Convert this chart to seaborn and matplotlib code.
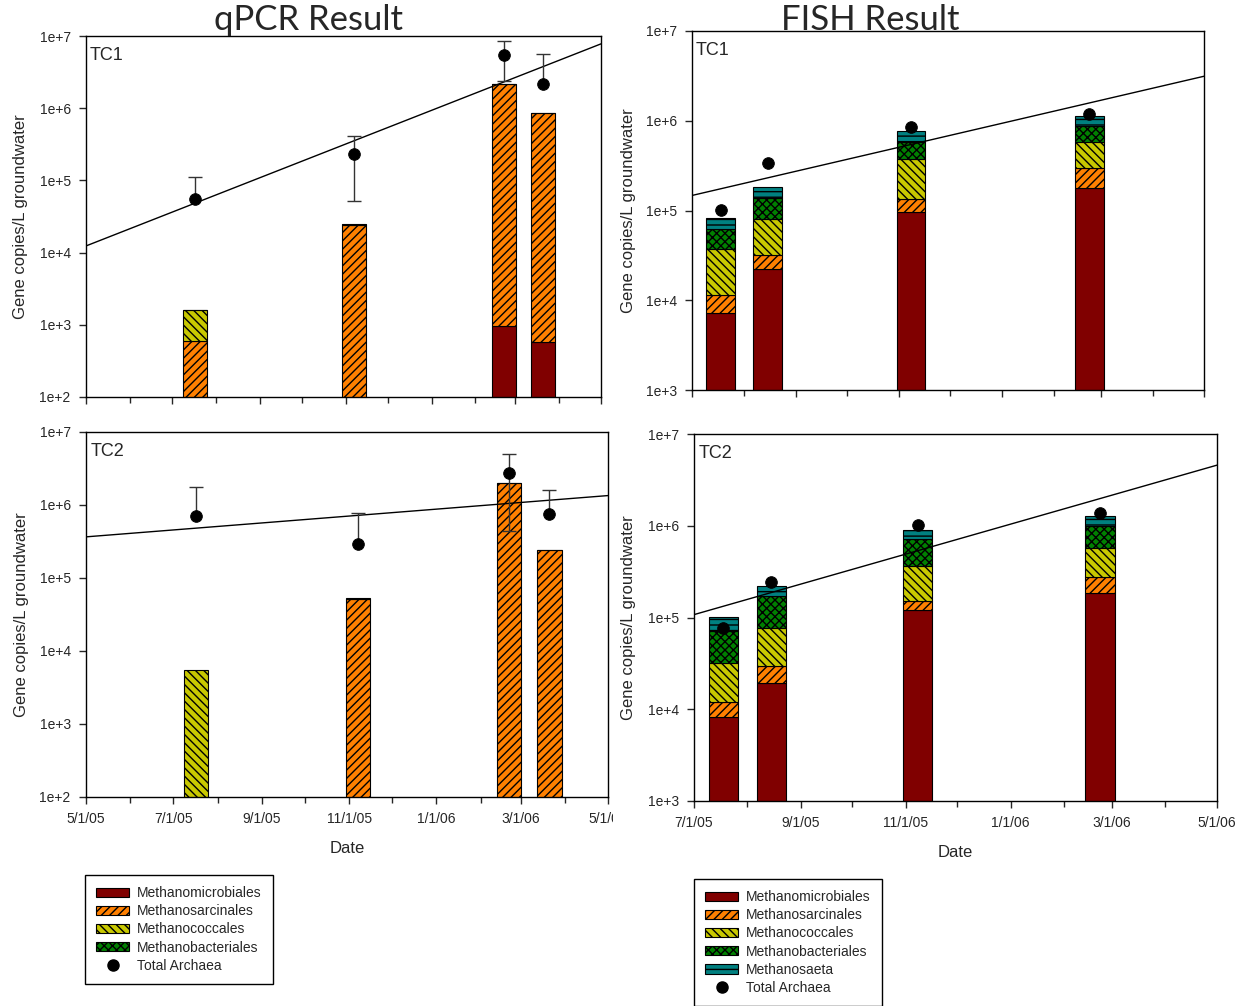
import numpy as np
import pandas as pd
import matplotlib
matplotlib.use("Agg")
import matplotlib.pyplot as plt
import matplotlib.dates as mdates
from matplotlib.patches import Patch, Rectangle
from matplotlib.lines import Line2D
from matplotlib.ticker import FixedLocator, FuncFormatter, NullFormatter
import seaborn as sns

sns.set_style("ticks")
plt.rcParams["font.family"] = ["Liberation Sans", "DejaVu Sans"]
plt.rcParams["hatch.linewidth"] = 1.0

# ---- data ----
qpcr_dates = ["2005-07-17", "2005-11-07", "2006-02-21", "2006-03-21"]
fish_dates = ["2005-07-18", "2005-08-15", "2005-11-08", "2006-02-22"]

# qPCR TC1
q1_microbiales = [0, 0, 960, 580]
q1_sarcinales = [600, 24000, 2160000, 857000]
q1_coccales = [1000, 0, 0, 0]
q1_bacteriales = [20, 800, 20000, 8000]
q1_total = [55000, 232000, 5400000, 2150000]
q1_err = [56000, 180000, 3000000, 3400000]

# qPCR TC2
q2_microbiales = [0, 0, 0, 0]
q2_sarcinales = [0, 51500, 2000000, 242000]
q2_coccales = [5500, 0, 0, 0]
q2_bacteriales = [0, 2000, 10000, 2000]
q2_total = [706000, 292000, 2740000, 753000]
q2_err = [1060000, 484000, 2300000, 850000]

# FISH TC1
f1_microbiales = [7200, 22300, 95000, 177000]
f1_sarcinales = [4200, 9400, 39000, 123000]
f1_coccales = [25800, 48700, 238000, 285000]
f1_bacteriales = [24600, 58600, 213000, 296000]
f1_saeta = [20000, 42000, 177000, 259000]
f1_total = [101000, 336000, 859000, 1190000]

# FISH TC2
f2_microbiales = [8200, 19500, 121000, 186000]
f2_sarcinales = [3900, 10000, 29000, 93000]
f2_coccales = [20000, 48000, 217000, 297000]
f2_bacteriales = [39000, 94000, 351000, 424000]
f2_saeta = [29000, 51000, 182000, 290000]
f2_total = [77000, 244000, 1020000, 1370000]

groups = ["Methanomicrobiales", "Methanosarcinales", "Methanococcales",
          "Methanobacteriales", "Methanosaeta"]
styles = {
    "Methanomicrobiales": dict(facecolor="#800000", hatch=None),
    "Methanosarcinales": dict(facecolor="#ff8000", hatch="////"),
    "Methanococcales": dict(facecolor="#c8c800", hatch="\\\\\\\\"),
    "Methanobacteriales": dict(facecolor="#008000", hatch="xxxx"),
    "Methanosaeta": dict(facecolor="#008080", hatch="---"),
}

W, H = 1248, 1006
fig = plt.figure(figsize=(W / 100, H / 100), dpi=100)


def px_axes(x0, y0, x1, y1):
    return fig.add_axes([x0 / W, 1 - y1 / H, (x1 - x0) / W, (y1 - y0) / H])


def fmt_date(v, pos=None):
    d = mdates.num2date(v)
    return f"{d.month}/{d.day}/{d:%y}"


def panel(ax, dates, layers, total, err, xlim, ylim, tag, show_x, ylab_x):
    x = mdates.date2num(pd.to_datetime(dates))
    bottom = np.zeros(len(x))
    for name, vals in layers:
        vals = np.asarray(vals, float)
        m = vals > 0
        b = np.where(bottom > 0, bottom, 1.0)
        ax.bar(x[m], vals[m], width=17, bottom=b[m], edgecolor="black",
               linewidth=0.8, zorder=2, **styles[name])
        bottom = bottom + vals

    total = np.asarray(total, float)
    # regression of log10(total) on date, drawn across the whole axis
    k, c = np.polyfit(x, np.log10(total), 1)
    xl = mdates.date2num(pd.to_datetime(xlim))
    fit = pd.DataFrame({"x": xl, "y": 10 ** (k * xl + c)})
    sns.lineplot(data=fit, x="x", y="y", color="black", linewidth=1, ax=ax, zorder=3)

    if err is not None:
        err = np.asarray(err, float)
        hi = total + err
        has_lo = err < total
        lo = np.where(has_lo, total - err, total)
        ax.vlines(x, lo, hi, color="#333333", linewidth=1, zorder=3)
        ax.plot(x, hi, ls="none", marker="_", ms=10, mew=1, color="#333333", zorder=3)
        ax.plot(x[has_lo], lo[has_lo], ls="none", marker="_", ms=10, mew=1,
                color="#333333", zorder=3)

    pts = pd.DataFrame({"x": x, "y": total})
    sns.scatterplot(data=pts, x="x", y="y", color="black", s=70, edgecolor="black",
                    ax=ax, zorder=4, legend=False)

    ax.set_yscale("log")
    ax.set_ylim(*ylim)
    ax.set_xlim(*xl)
    dec = 10.0 ** np.arange(np.log10(ylim[0]), np.log10(ylim[1]) + 1)
    ax.yaxis.set_major_locator(FixedLocator(dec))
    ax.yaxis.set_major_formatter(FuncFormatter(lambda v, p: f"1e+{int(round(np.log10(v)))}"))
    ax.yaxis.set_minor_formatter(NullFormatter())
    ax.minorticks_off()
    ax.xaxis.set_major_locator(mdates.MonthLocator(bymonth=[1, 3, 5, 7, 9, 11]))
    ax.xaxis.set_minor_locator(mdates.MonthLocator())
    ax.xaxis.set_major_formatter(FuncFormatter(fmt_date))
    ax.tick_params(axis="both", which="major", direction="out", length=5,
                   width=1, labelsize=10, pad=6)
    ax.tick_params(axis="x", which="minor", direction="out", length=4, width=1)
    ax.tick_params(axis="x", labelbottom=show_x)
    for s in ax.spines.values():
        s.set_visible(True)
        s.set_linewidth(1)
        s.set_color("black")
    ax.set_ylabel("Gene copies/L groundwater", fontsize=12)
    ax.yaxis.set_label_coords(ylab_x, 0.5)
    if show_x:
        ax.set_xlabel("Date", fontsize=12)
        ax.xaxis.set_label_coords(0.5, -0.12)
    else:
        ax.set_xlabel("")
    ax.text(0.008, 0.97, tag, transform=ax.transAxes, ha="left", va="top", fontsize=13)


q_lim = ("2005-05-01", "2006-05-01")
f_lim = ("2005-07-01", "2006-05-01")

ax_tl = px_axes(86, 36, 601, 397)
panel(ax_tl, qpcr_dates,
      [("Methanomicrobiales", q1_microbiales), ("Methanosarcinales", q1_sarcinales),
       ("Methanococcales", q1_coccales), ("Methanobacteriales", q1_bacteriales)],
      q1_total, q1_err, q_lim, (1e2, 1e7), "TC1", False, -0.112)

ax_bl = px_axes(86, 432, 608, 797)
panel(ax_bl, qpcr_dates,
      [("Methanomicrobiales", q2_microbiales), ("Methanosarcinales", q2_sarcinales),
       ("Methanococcales", q2_coccales), ("Methanobacteriales", q2_bacteriales)],
      q2_total, q2_err, q_lim, (1e2, 1e7), "TC2", True, -0.110)

ax_tr = px_axes(692, 31, 1204, 390)
panel(ax_tr, fish_dates,
      [("Methanomicrobiales", f1_microbiales), ("Methanosarcinales", f1_sarcinales),
       ("Methanococcales", f1_coccales), ("Methanobacteriales", f1_bacteriales),
       ("Methanosaeta", f1_saeta)],
      f1_total, None, f_lim, (1e3, 1e7), "TC1", False, -0.11)

ax_br = px_axes(694, 434, 1217, 801)
panel(ax_br, fish_dates,
      [("Methanomicrobiales", f2_microbiales), ("Methanosarcinales", f2_sarcinales),
       ("Methanococcales", f2_coccales), ("Methanobacteriales", f2_bacteriales),
       ("Methanosaeta", f2_saeta)],
      f2_total, None, f_lim, (1e3, 1e7), "TC2", True, -0.111)

# the left panel's last date label is cut off in the original
fig.patches.append(Rectangle((613 / W, 1 - 832 / H), 14 / W, 24 / H, transform=fig.transFigure,
                             facecolor="white", edgecolor="none", zorder=5))

fig.text(308 / W, 1 - 20 / H, "qPCR Result", ha="center", va="center",
         fontsize=25, family=["Lato", "DejaVu Sans"])
fig.text(870 / W, 1 - 20 / H, "FISH Result", ha="center", va="center",
         fontsize=25, family=["Lato", "DejaVu Sans"])


def legend_handles(names):
    hs = [Patch(edgecolor="black", linewidth=0.8, label=n, **styles[n]) for n in names]
    hs.append(Line2D([], [], ls="none", marker="o", color="black", ms=8, label="Total Archaea"))
    return hs


leg_kw = dict(loc="upper left", frameon=True, fancybox=False, edgecolor="black",
              framealpha=1, borderaxespad=0, handlelength=2.4, handleheight=0.65,
              handletextpad=0.55, labelspacing=0.3, borderpad=0.8, fontsize=10)
l1 = fig.legend(handles=legend_handles(groups[:4]), bbox_to_anchor=(85 / W, 1 - 875 / H), **leg_kw)
l2 = fig.legend(handles=legend_handles(groups), bbox_to_anchor=(694 / W, 1 - 879 / H), **leg_kw)
for lg in (l1, l2):
    lg.get_frame().set_linewidth(1.0)

fig.savefig("out.png", dpi=100)
